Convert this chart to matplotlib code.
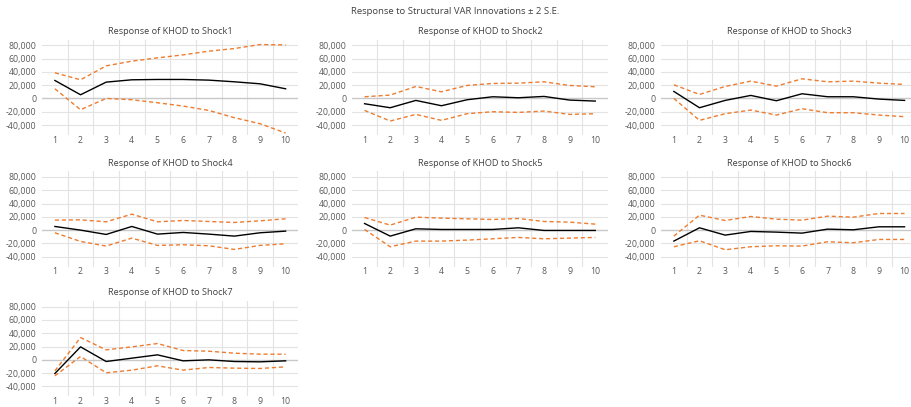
import matplotlib
matplotlib.use('Agg')
import matplotlib.pyplot as plt
import numpy as np

# Horizonte de impulso-respuesta
periods = [1, 2, 3, 4, 5, 6, 7, 8, 9, 10]
shock_names = ['Shock1', 'Shock2', 'Shock3', 'Shock4', 'Shock5', 'Shock6', 'Shock7']

resp_1 = [27000, 5500, 24500, 28000, 28500, 28500, 27500, 25000, 22000, 14500]
upper_1 = [38500, 28000, 49000, 56000, 61000, 65500, 71000, 75000, 81000, 80500]
lower_1 = [14500, -17000, 0, -2000, -6500, -11500, -18000, -29000, -38000, -52000]

resp_2 = [-8000, -14000, -3000, -11000, -2000, 2500, 1000, 3000, -2500, -4000]
upper_2 = [2500, 5000, 18000, 10000, 19500, 22500, 23000, 25000, 19500, 17500]
lower_2 = [-18000, -34000, -24000, -33000, -23000, -20000, -21000, -19000, -24000, -23000]

resp_3 = [10500, -14000, -3000, 4500, -3500, 7000, 2500, 2500, -1000, -3000]
upper_3 = [20500, 6000, 18000, 26000, 18500, 29500, 25000, 26000, 23000, 21000]
lower_3 = [0, -33000, -23000, -17500, -25000, -15500, -21500, -21500, -25000, -27500]

resp_4 = [5500, 0, -6500, 5500, -6000, -3500, -6000, -9000, -4000, -1500]
upper_4 = [15000, 15500, 12500, 24000, 12500, 14500, 13000, 11500, 14000, 17000]
lower_4 = [-4000, -17000, -24000, -12000, -23000, -22000, -23500, -29000, -23000, -20500]

resp_5 = [10000, -9000, 2000, 1000, 1000, 1000, 3500, -500, -500, -500]
upper_5 = [19000, 7500, 19500, 18000, 17000, 16000, 17500, 13000, 12000, 9000]
lower_5 = [1000, -25000, -16500, -16500, -15000, -13000, -11000, -13000, -12000, -11000]

resp_6 = [-16500, 3500, -7500, -2000, -3000, -4500, 1500, 500, 5000, 5000]
upper_6 = [-9000, 22500, 14500, 20500, 16500, 15000, 21000, 19500, 25000, 25000]
lower_6 = [-25000, -16000, -29500, -25000, -23500, -24000, -17500, -19000, -14000, -14000]

resp_7 = [-20500, 19500, -2500, 2500, 7500, -1500, 0, -2500, -3000, -1500]
upper_7 = [-16500, 33500, 15000, 19500, 24500, 14000, 13000, 10000, 8500, 8500]
lower_7 = [-24000, 5000, -19500, -15500, -9000, -15500, -11500, -12500, -13000, -10500]

y_ticks = [-40000, -20000, 0, 20000, 40000, 60000, 80000]

plt.rcParams['font.family'] = ['Open Sans', 'DejaVu Sans']

TEXT = '#595959'
ORANGE = '#ED7D31'


def draw_panel(ax, title, resp, upper, lower):
    """Un panel estilo Excel: respuesta negra y bandas naranjas discontinuas."""
    x = np.array(periods)
    # rejilla vertical entre categorias
    for v in np.arange(1.5, 10.5, 1.0):
        ax.axvline(v, color='#E3E3E3', linewidth=0.8, zorder=0)
    for t in y_ticks:
        if t == 0:
            ax.axhline(t, color='#C8C8C8', linewidth=1.0, zorder=1)
        else:
            ax.axhline(t, color='#E3E3E3', linewidth=0.8, zorder=0)

    ax.plot(x, upper, color=ORANGE, linewidth=1.0, linestyle=(0, (3, 2)), zorder=3)
    ax.plot(x, lower, color=ORANGE, linewidth=1.0, linestyle=(0, (3, 2)), zorder=3)
    ax.plot(x, resp, color='black', linewidth=1.0, zorder=4)

    ax.set_xlim(0.5, 10.5)
    ax.set_ylim(-55000, 88500)
    ax.set_xticks(periods)
    ax.set_xticklabels([str(p) for p in periods])
    ax.set_yticks(y_ticks)
    ax.set_yticklabels([f'{t:,}' for t in y_ticks])
    ax.tick_params(length=0, labelsize=6.3, colors=TEXT, pad=4)
    ax.tick_params(axis='x', pad=0.5)
    for s in ax.spines.values():
        s.set_visible(False)
    ax.set_title(title, fontsize=6.6, color='#404040', pad=4)


fig = plt.figure(figsize=(9.11, 4.07), dpi=100)
fig.patch.set_facecolor('white')

col_x = [0.0462, 0.3861, 0.7256]
row_y = [0.6683, 0.3447, 0.0260]
w, h = 0.2814, 0.2345

panels = [
    (resp_1, upper_1, lower_1),
    (resp_2, upper_2, lower_2),
    (resp_3, upper_3, lower_3),
    (resp_4, upper_4, lower_4),
    (resp_5, upper_5, lower_5),
    (resp_6, upper_6, lower_6),
    (resp_7, upper_7, lower_7),
]

for i, (resp, upper, lower) in enumerate(panels):
    r, c = divmod(i, 3)
    ax = fig.add_axes([col_x[c], row_y[r], w, h])
    draw_panel(ax, f'Response of KHOD to {shock_names[i]}', resp, upper, lower)

fig.text(0.5, 1 - 12 / 407, 'Response to Structural VAR Innovations \u00b1 2 S.E.',
         ha='center', va='center', fontsize=6.8, color='#404040')

fig.savefig('out.png', dpi=100, facecolor='white')
plt.close(fig)
